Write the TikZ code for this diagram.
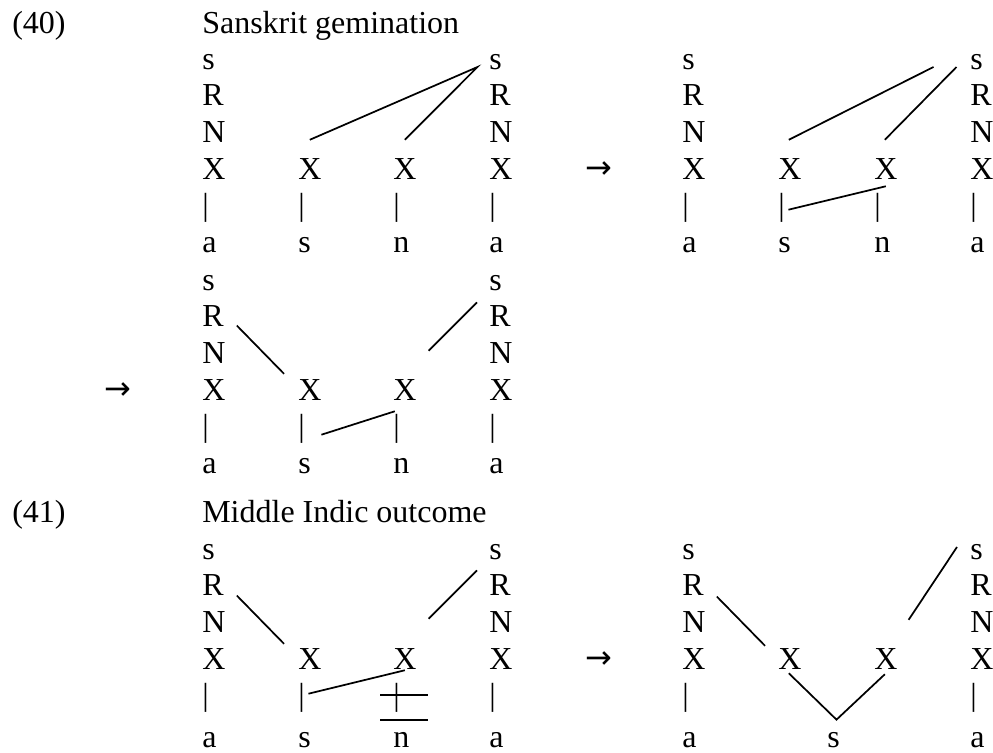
\documentclass[tikz,border=0pt]{standalone}
\usepackage{fontspec}
\setmainfont{Liberation Serif}
\newfontfamily\arrowfont{DejaVu Sans}
\usetikzlibrary{calc}

\begin{document}
\begin{tikzpicture}[x=0.75pt,y=-0.75pt,
  font=\fontsize{24}{28}\selectfont,
  tier/.style={anchor=base west,inner sep=0pt},
  rule/.style={tier,font=\fontsize{24}{24}\arrowfont},
  assoc/.style={line width=1.3pt}]

\useasboundingbox (0,0) rectangle (993,753);

% Headings
\node[tier] (ex40) at (12,33) {(40)};
\node[tier] (title40) at (202,33) {Sanskrit gemination};
\node[tier] (ex41) at (12,522) {(41)};
\node[tier] (title41) at (202,522) {Middle Indic outcome};

% Full columns s R N X | a
\foreach \col/\x/\y/\ya in {A1/202/69/252.5, A4/489/69/252.5, B1/682/69/252.5, B4/970/69/252.5,
    C1/202/290/473.4, C4/489/290/473.4, D1/202/559/747, D4/489/559/747, E1/682/559/747, E4/970/559/747} {
  \node[tier] (\col s) at (\x,\y) {s};
  \node[tier] (\col R) at (\x,\y+36.6) {R};
  \node[tier] (\col N) at (\x,\y+73.2) {N};
  \node[tier] (\col X) at (\x,\y+110) {X};
  \node[tier] (\col b) at (\x,\y+146.7) {|};
  \node[tier] (\col a) at (\x,\ya) {a};
}

% Middle columns X | segment
\foreach \col/\x/\y/\ya/\ph in {A2/298/179/252.5/s, A3/393/179/252.5/n, B2/778/179/252.5/s, B3/874/179/252.5/n,
    C2/298/400/473.4/s, C3/393/400/473.4/n, D2/298/669/747/s, D3/393/669/747/n} {
  \node[tier] (\col X) at (\x,\y) {X};
  \node[tier] (\col b) at (\x,\y+36.7) {|};
  \node[tier] (\col a) at (\x,\ya) {\ph};
}
\node[tier] (E2X) at (778,669) {X};
\node[tier] (E3X) at (874,669) {X};
\node[tier] (Es) at (827,747) {s};

% Arrows
\node[rule] (arrB) at (585,178) {→};
\node[rule] (arrC) at (104,399) {→};
\node[rule] (arrE) at (585,668) {→};

% Sanskrit gemination
\draw[assoc] ($(A2X.north)+(0,-18)$) -- ($(A4s.base)+(-18,-2)$) -- ($(A3X.north)+(0,-18)$);

\draw[assoc] ($(B2X.north)+(-1,-18)$) -- ($(B4s.base)+(-43,-2)$);
\draw[assoc] ($(B3X.north)+(-1,-18)$) -- ($(B4s.base)+(-20,-2)$);
\draw[assoc] ($(B2b.base)+(7,-6)$) -- ($(B3X.south)+(0,7)$);

\draw[assoc] ($(C1R.base east)+(13,-1)$) -- ($(C2X.north west)+(-14,-5)$);
\draw[assoc] ($(C3X.north east)+(12,-28)$) -- ($(C4R.north west)+(-12,-3)$);
\draw[assoc] ($(C2b.base)+(20,-2)$) -- ($(C3X.south)+(-10,11)$);

% Middle Indic outcome
\draw[assoc] ($(D1R.base east)+(13,0)$) -- ($(D2X.north west)+(-14,-4)$);
\draw[assoc] ($(D3X.north east)+(12,-29)$) -- ($(D4R.north west)+(-12,-4)$);
\draw[assoc] ($(D2b.base)+(7,-12)$) -- ($(D3X.south)+(0,1)$);
\draw[assoc] ($(D3b.base)+(-16,-11)$) -- ++(48,0);
\draw[assoc] ($(D3b.base)+(-16,14)$) -- ++(48,0);

\draw[assoc] ($(E1R.base east)+(13,1)$) -- ($(E2X.north west)+(-13,-2)$);
\draw[assoc] ($(E3X.north east)+(11,-28)$) -- ($(E4s.base west)+(-13,-12)$);
\draw[assoc] ($(E2X.south)+(-1,4)$) -- ($(Es.north)+(3,-12)$) -- ($(E3X.south)+(-1,5)$);

\end{tikzpicture}
\end{document}
